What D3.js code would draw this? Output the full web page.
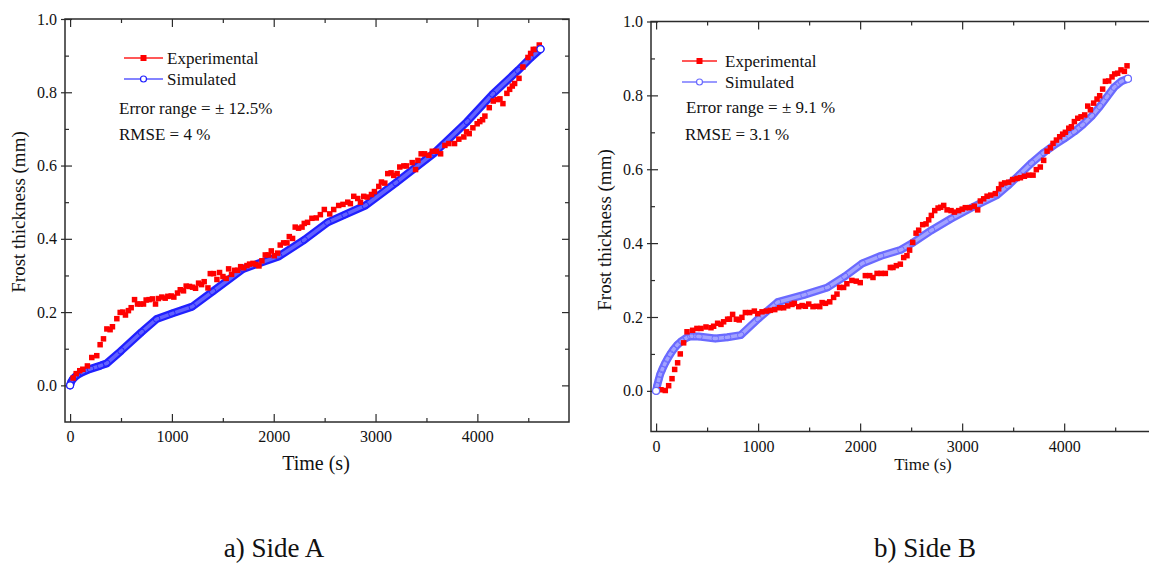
<!DOCTYPE html>
<html>
<head>
<meta charset="utf-8">
<script src="https://cdn.jsdelivr.net/npm/d3@7"></script>
<style>
  html, body { margin: 0; padding: 0; background: #ffffff; }
  svg { display: block; font-family: "Liberation Serif", "Times New Roman", serif; }
</style>
</head>
<body>
<script>
// ---------------- DATA ----------------
const xMajorTicks = [0, 1000, 2000, 3000, 4000];
const xMinorTicks = [500, 1500, 2500, 3500, 4500];
const yMajorTicks = [0.0, 0.2, 0.4, 0.6, 0.8, 1.0];
const yMinorTicks = [0.1, 0.3, 0.5, 0.7, 0.9];
const seriesNames = ["Experimental", "Simulated"];

// Side A: experimental (time s, thickness mm)
const sideAExperimental = [
  [30,0.02],[60,0.032],[95,0.04],[125,0.044],[170,0.053],[213,0.076],[262,0.081],[295,0.111],
  [328,0.127],[361,0.154],[393,0.152],[416,0.16],[459,0.182],[492,0.199],[518,0.2],[544,0.192],
  [573,0.204],[600,0.212],[633,0.234],[662,0.222],[688,0.222],[721,0.222],[747,0.233],[776,0.234],
  [809,0.236],[839,0.222],[868,0.237],[901,0.241],[934,0.238],[960,0.243],[993,0.244],[1019,0.241],
  [1055,0.252],[1082,0.261],[1114,0.258],[1140,0.271],[1173,0.27],[1203,0.268],[1232,0.265],
  [1262,0.279],[1291,0.275],[1317,0.283],[1354,0.266],[1377,0.305],[1409,0.305],[1442,0.289],
  [1468,0.308],[1501,0.297],[1533,0.292],[1557,0.318],[1586,0.303],[1616,0.314],[1645,0.314],
  [1675,0.324],[1704,0.321],[1737,0.327],[1763,0.331],[1796,0.333],[1825,0.33],[1855,0.326],
  [1884,0.34],[1917,0.356],[1946,0.356],[1976,0.367],[2005,0.354],[2038,0.361],[2064,0.383],
  [2097,0.389],[2130,0.389],[2153,0.406],[2185,0.401],[2211,0.432],[2244,0.429],[2278,0.432],
  [2300,0.442],[2332,0.445],[2375,0.456],[2418,0.457],[2458,0.466],[2497,0.48],[2550,0.468],
  [2589,0.48],[2638,0.491],[2680,0.494],[2727,0.5],[2753,0.496],[2786,0.516],[2825,0.51],
  [2852,0.5],[2884,0.516],[2917,0.514],[2960,0.521],[2989,0.529],[3032,0.543],[3058,0.555],
  [3091,0.552],[3120,0.578],[3153,0.58],[3179,0.573],[3212,0.578],[3238,0.596],[3278,0.599],
  [3304,0.599],[3360,0.608],[3393,0.589],[3416,0.614],[3448,0.632],[3481,0.632],[3524,0.628],
  [3557,0.639],[3599,0.639],[3639,0.632],[3681,0.655],[3720,0.66],[3776,0.66],[3818,0.672],
  [3867,0.678],[3894,0.692],[3920,0.687],[3956,0.703],[3998,0.714],[4024,0.72],[4051,0.725],
  [4074,0.735],[4117,0.758],[4156,0.776],[4195,0.78],[4222,0.782],[4251,0.769],[4290,0.797],
  [4317,0.808],[4343,0.817],[4366,0.824],[4409,0.838],[4447,0.869],[4497,0.895],[4523,0.906],
  [4549,0.917],[4572,0.917],[4608,0.929]
];

// Side A: simulated
const sideASimulated = [
  [0,0.0],[10,0.009],[25,0.016],[45,0.022],[70,0.028],[120,0.036],[200,0.045],[300,0.054],
  [360,0.06],[500,0.094],[700,0.145],[850,0.181],[1000,0.196],[1200,0.215],[1400,0.256],
  [1700,0.318],[2050,0.352],[2300,0.397],[2530,0.445],[2700,0.466],[2900,0.491],[3200,0.553],
  [3580,0.635],[3900,0.72],[4150,0.795],[4400,0.86],[4520,0.893],[4620,0.918]
];

// Side B: experimental
const sideBExperimental = [
  [2,0.0],[48,0.003],[90,0.001],[123,0.014],[156,0.033],[182,0.058],[211,0.076],[237,0.1],
  [270,0.13],[303,0.16],[358,0.164],[400,0.169],[440,0.169],[489,0.173],[538,0.171],[564,0.175],
  [603,0.183],[636,0.18],[662,0.187],[701,0.194],[720,0.194],[750,0.207],[786,0.194],[815,0.192],
  [841,0.199],[875,0.212],[917,0.212],[963,0.216],[996,0.209],[1038,0.214],[1081,0.216],
  [1120,0.218],[1163,0.22],[1211,0.225],[1250,0.225],[1290,0.23],[1332,0.234],[1355,0.237],
  [1398,0.228],[1431,0.231],[1463,0.229],[1496,0.235],[1538,0.228],[1571,0.229],[1604,0.228],
  [1627,0.239],[1660,0.237],[1702,0.241],[1740,0.253],[1773,0.262],[1799,0.28],[1838,0.28],
  [1870,0.29],[1919,0.299],[1962,0.297],[2001,0.293],[2051,0.312],[2094,0.312],[2126,0.307],
  [2166,0.318],[2205,0.318],[2247,0.318],[2296,0.334],[2322,0.334],[2355,0.339],[2394,0.343],
  [2427,0.361],[2459,0.366],[2485,0.381],[2515,0.402],[2548,0.427],[2574,0.435],[2613,0.45],
  [2646,0.452],[2672,0.463],[2698,0.475],[2731,0.488],[2764,0.495],[2790,0.497],[2819,0.502],
  [2852,0.49],[2891,0.488],[2924,0.484],[2966,0.488],[3000,0.492],[3031,0.496],[3074,0.496],
  [3119,0.5],[3152,0.49],[3178,0.514],[3211,0.52],[3244,0.527],[3280,0.53],[3325,0.534],
  [3358,0.547],[3384,0.559],[3417,0.563],[3456,0.565],[3495,0.572],[3538,0.575],[3571,0.577],
  [3610,0.581],[3652,0.584],[3695,0.584],[3727,0.599],[3766,0.606],[3799,0.624],[3832,0.649],
  [3865,0.658],[3891,0.67],[3924,0.679],[3956,0.688],[3985,0.695],[4012,0.7],[4045,0.711],
  [4071,0.715],[4100,0.729],[4133,0.738],[4165,0.742],[4201,0.747],[4231,0.771],[4257,0.761],
  [4289,0.779],[4322,0.79],[4348,0.799],[4377,0.817],[4404,0.838],[4436,0.839],[4469,0.85],
  [4495,0.858],[4524,0.86],[4557,0.869],[4590,0.865],[4616,0.88]
];

// Side B: simulated
const sideBSimulated = [
  [0,0.0],[10,0.014],[25,0.03],[40,0.045],[60,0.058],[85,0.073],[110,0.086],[140,0.1],
  [170,0.112],[210,0.125],[250,0.135],[300,0.144],[340,0.148],[420,0.147],[580,0.142],
  [700,0.145],[830,0.151],[1000,0.195],[1190,0.24],[1450,0.26],[1680,0.28],[1850,0.31],
  [2020,0.345],[2200,0.365],[2400,0.382],[2510,0.40],[2700,0.435],[2890,0.466],[3100,0.497],
  [3340,0.53],[3450,0.556],[3560,0.585],[3680,0.617],[3800,0.645],[3900,0.665],[4000,0.683],
  [4100,0.702],[4180,0.72],[4270,0.744],[4350,0.77],[4420,0.796],[4490,0.822],[4560,0.838],
  [4625,0.845]
];

const sideAStats = ["Error range = \u00B1 12.5%", "RMSE = 4 %"];
const sideBStats = ["Error range = \u00B1 9.1 %", "RMSE = 3.1 %"];
const captions = ["a) Side A", "b) Side B"];

// ---------------- DRAW ----------------
const W = 1149, H = 564;
const FONT = "'Liberation Serif', 'Times New Roman', serif";
const svg = d3.select("body").append("svg").attr("width", W).attr("height", H);

function drawPanel(cfg) {
  const x = d3.scaleLinear().domain([-50, 4900]).range(cfg.xRange);
  const y = d3.scaleLinear().domain(cfg.yDomain).range(cfg.yRange);
  const g = svg.append("g");
  const frameColor = "#2b2b2b";
  const [x0, x1] = cfg.xRange;
  const [yb, yt] = cfg.yRange;

  const clipId = "clip" + cfg.id;
  svg.append("clipPath").attr("id", clipId).append("rect")
    .attr("x", x0).attr("y", yt).attr("width", x1 - x0).attr("height", yb - yt);

  g.append("g").attr("transform", `translate(0,${yb})`)
    .call(d3.axisBottom(x).tickValues(xMajorTicks).tickSize(-8).tickPadding(9).tickFormat(d3.format("d")));
  g.append("g").attr("transform", `translate(0,${yb})`)
    .call(d3.axisBottom(x).tickValues(xMinorTicks).tickSize(-4).tickFormat(""));
  g.append("g").attr("transform", `translate(0,${yt})`)
    .call(d3.axisTop(x).tickValues(xMajorTicks).tickSize(-8).tickFormat(""));
  g.append("g").attr("transform", `translate(0,${yt})`)
    .call(d3.axisTop(x).tickValues(xMinorTicks).tickSize(-4).tickFormat(""));
  g.append("g").attr("transform", `translate(${x0},0)`)
    .call(d3.axisLeft(y).tickValues(yMajorTicks).tickSize(-7).tickPadding(8).tickFormat(d3.format(".1f")));
  g.append("g").attr("transform", `translate(${x0},0)`)
    .call(d3.axisLeft(y).tickValues(yMajorTicks).tickSize(4).tickFormat(""));
  g.append("g").attr("transform", `translate(${x0},0)`)
    .call(d3.axisLeft(y).tickValues(yMinorTicks).tickSize(-4).tickFormat(""));
  g.append("g").attr("transform", `translate(${x1},0)`)
    .call(d3.axisRight(y).tickValues(yMajorTicks).tickSize(-7).tickFormat(""));
  g.append("g").attr("transform", `translate(${x1},0)`)
    .call(d3.axisRight(y).tickValues(yMinorTicks).tickSize(-4).tickFormat(""));

  g.selectAll(".domain").remove();
  g.selectAll(".tick line").attr("stroke", frameColor).attr("stroke-width", 1.2);
  g.selectAll(".tick text").attr("fill", "#111").style("font-size", "16px").style("font-family", FONT);

  g.append("rect").attr("x", x0).attr("y", yt).attr("width", x1 - x0).attr("height", yb - yt)
    .attr("fill", "none").attr("stroke", frameColor).attr("stroke-width", 1.5);

  const dg = g.append("g").attr("clip-path", `url(#${clipId})`);
  const line = d3.line().x(d => x(d[0])).y(d => y(d[1])).curve(d3.curveLinear);
  dg.append("path").datum(cfg.sim).attr("d", line).attr("fill", "none")
    .attr("stroke", cfg.simEdge).attr("stroke-width", 8).attr("stroke-linejoin", "round").attr("stroke-linecap", "round");
  dg.append("path").datum(cfg.sim).attr("d", line).attr("fill", "none")
    .attr("stroke", cfg.simInner).attr("stroke-width", 3.5).attr("stroke-linejoin", "round");
  dg.selectAll("circle.sim").data(cfg.sim).enter().append("circle")
    .attr("cx", d => x(d[0])).attr("cy", d => y(d[1])).attr("r", 3.3)
    .attr("fill", "none").attr("stroke", cfg.simEdge).attr("stroke-width", 0.9);

  const s = 5.5;
  dg.selectAll("rect.exp").data(cfg.exp).enter().append("rect")
    .attr("x", d => x(d[0]) - s / 2).attr("y", d => y(d[1]) - s / 2)
    .attr("width", s).attr("height", s).attr("fill", "#ff0000");

  const ends = [cfg.sim[0], cfg.sim[cfg.sim.length - 1]];
  g.selectAll("circle.end").data(ends).enter().append("circle")
    .attr("cx", d => x(d[0])).attr("cy", d => y(d[1])).attr("r", 3.5)
    .attr("fill", "#fff").attr("stroke", cfg.simEdge).attr("stroke-width", 1.2);

  const L = cfg.legend;
  g.append("line").attr("x1", L.x1).attr("x2", L.x2).attr("y1", L.y[0]).attr("y2", L.y[0])
    .attr("stroke", "#ff2020").attr("stroke-width", 1.3);
  g.append("rect").attr("x", (L.x1 + L.x2) / 2 - 3).attr("y", L.y[0] - 3).attr("width", 6).attr("height", 6).attr("fill", "#ff0000");
  g.append("line").attr("x1", L.x1).attr("x2", L.x2).attr("y1", L.y[1]).attr("y2", L.y[1])
    .attr("stroke", cfg.legendSimLine).attr("stroke-width", 1.3);
  g.append("circle").attr("cx", (L.x1 + L.x2) / 2).attr("cy", L.y[1]).attr("r", 3)
    .attr("fill", "#fff").attr("stroke", cfg.simEdge).attr("stroke-width", 1.2);
  seriesNames.forEach((n, i) => {
    g.append("text").attr("x", L.tx).attr("y", L.y[i] + 6).text(n)
      .style("font-size", "17px").style("font-family", FONT).attr("fill", "#111");
  });
  cfg.stats.forEach((t, i) => {
    g.append("text").attr("x", cfg.statX[i]).attr("y", cfg.statY[i]).text(t)
      .style("font-size", "17px").style("font-family", FONT).attr("fill", "#111");
  });

  g.append("text").attr("transform", `translate(${cfg.yLabel[0]},${cfg.yLabel[1]}) rotate(-90)`)
    .attr("text-anchor", "middle").text("Frost thickness (mm)")
    .style("font-size", cfg.yLabelSize + "px").style("font-family", FONT).attr("fill", "#111");
  g.append("text").attr("x", cfg.xLabel[0]).attr("y", cfg.xLabel[1])
    .attr("text-anchor", "middle").text("Time (s)")
    .style("font-size", cfg.xLabelSize + "px").style("font-family", FONT).attr("fill", "#111");
  svg.append("text").attr("x", cfg.caption[0]).attr("y", cfg.caption[1]).attr("text-anchor", "middle")
    .text(cfg.captionText).style("font-size", "27px").style("font-family", FONT).attr("fill", "#111");
}

drawPanel({
  id: "A", xRange: [65, 569], yRange: [422, 19], yDomain: [-0.1, 1.0],
  exp: sideAExperimental, sim: sideASimulated,
  simEdge: "#2020ff", simInner: "#6262ff", legendSimLine: "#5a5aff",
  legend: { x1: 124, x2: 163, y: [58, 79], tx: 167 },
  stats: sideAStats, statX: [119, 119], statY: [113.5, 140],
  yLabel: [25, 212], yLabelSize: 19, xLabel: [316, 470], xLabelSize: 20,
  caption: [274, 557], captionText: captions[0]
});

drawPanel({
  id: "B", xRange: [651, 1156], yRange: [431.5, 21.5], yDomain: [-0.11, 1.0],
  exp: sideBExperimental, sim: sideBSimulated,
  simEdge: "#6a6aff", simInner: "#a2a2ff", legendSimLine: "#7777ff",
  legend: { x1: 682, x2: 717, y: [61, 82], tx: 725 },
  stats: sideBStats, statX: [686, 685], statY: [113, 139.5],
  yLabel: [611, 230], yLabelSize: 19, xLabel: [923, 470], xLabelSize: 17,
  caption: [925, 557], captionText: captions[1]
});
</script>
</body>
</html>
